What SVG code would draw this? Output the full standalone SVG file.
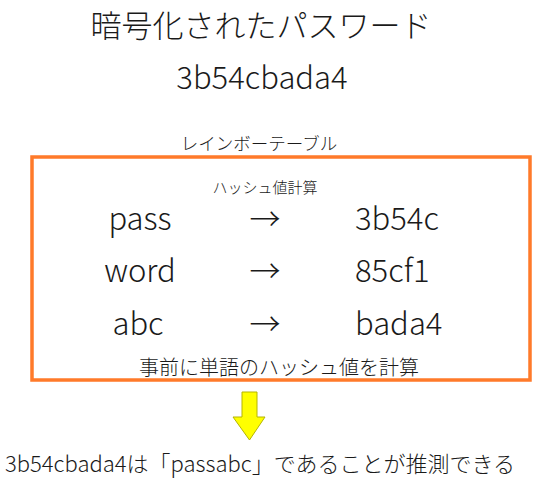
<svg xmlns="http://www.w3.org/2000/svg" width="556" height="488" viewBox="0 0 556 488">
<style>
text{font-family:"Noto Sans CJK JP","Noto Sans",sans-serif;fill:#1a1a1a;font-weight:300}
.row{font-size:31px}
</style>
<rect width="556" height="488" fill="#fff"/>
<g id="title">
<text x="261" y="37" text-anchor="middle" font-size="31">暗号化されたパスワード</text>
<text x="262" y="89" text-anchor="middle" font-size="31">3b54cbada4</text>
</g>
<g id="rainbow-table">
<text x="259" y="150" text-anchor="middle" font-size="17.5">レインボーテーブル</text>
<rect x="32" y="157" width="498" height="223" fill="none" stroke="#FF7A2A" stroke-width="3.5"/>
<text x="265" y="193" text-anchor="middle" font-size="15">ハッシュ値計算</text>
<text class="row" x="140" y="230" text-anchor="middle">pass</text>
<text class="row" x="265" y="230" text-anchor="middle">→</text>
<text class="row" x="355" y="230">3b54c</text>
<text class="row" x="140" y="282" text-anchor="middle">word</text>
<text class="row" x="265" y="282" text-anchor="middle">→</text>
<text class="row" x="355" y="282">85cf1</text>
<text class="row" x="138" y="335" text-anchor="middle">abc</text>
<text class="row" x="265" y="335" text-anchor="middle">→</text>
<text class="row" x="355" y="335">bada4</text>
<text x="279" y="375" text-anchor="middle" font-size="20">事前に単語のハッシュ値を計算</text>
</g>
<g id="connectors">
<path d="M242,392 H257 V417 H265 L249.5,440 L233,417 H242 Z" fill="#FFFF00" stroke="#B5B500" stroke-width="1"/>
</g>
<g id="conclusion">
<text x="260" y="472" text-anchor="middle" font-size="22">3b54cbada4は「passabc」であることが推測できる</text>
</g>
</svg>
